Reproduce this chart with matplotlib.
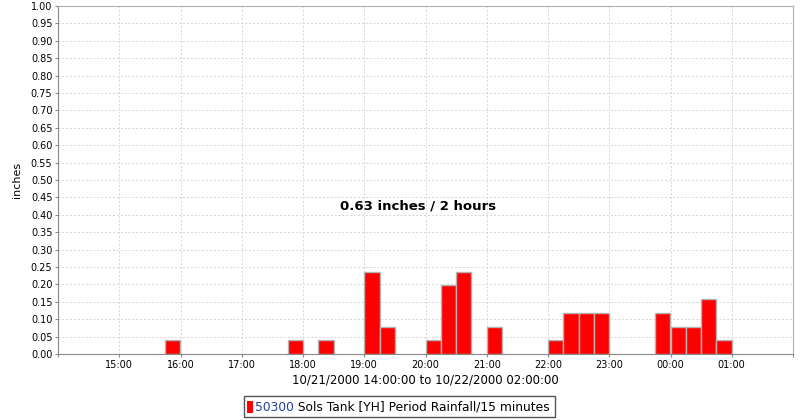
import matplotlib
matplotlib.use("Agg")
import matplotlib.pyplot as plt
import matplotlib.dates as mdates
from matplotlib.patches import Rectangle
import pandas as pd

# 15-minute rainfall periods (start of each period) and amounts in inches
period_starts = ["2000-10-21 15:45", "2000-10-21 17:45", "2000-10-21 18:15",
                 "2000-10-21 19:00", "2000-10-21 19:15", "2000-10-21 20:00",
                 "2000-10-21 20:15", "2000-10-21 20:30", "2000-10-21 21:00",
                 "2000-10-21 22:00", "2000-10-21 22:15", "2000-10-21 22:30",
                 "2000-10-21 22:45", "2000-10-21 23:45", "2000-10-22 00:00",
                 "2000-10-22 00:15", "2000-10-22 00:30", "2000-10-22 00:45"]
rainfall = [0.039, 0.039, 0.039, 0.236, 0.079, 0.039, 0.197, 0.236, 0.079,
            0.039, 0.118, 0.118, 0.118, 0.118, 0.079, 0.079, 0.157, 0.039]

series_id = "50300"
series_rest = " Sols Tank [YH] Period Rainfall/15 minutes"
summary_text = "0.63 inches / 2 hours"
x_label = "10/21/2000 14:00:00 to 10/22/2000 02:00:00"

t_start = pd.Timestamp("2000-10-21 14:00")
t_end = pd.Timestamp("2000-10-22 02:00")

fig = plt.figure(figsize=(8, 4.2), dpi=100)
ax = fig.add_axes([58 / 800, 66 / 420, 735 / 800, 348 / 420])

x = pd.to_datetime(period_starts)
ax.bar(x, rainfall, width=15 / 1440, align="edge", color="#ff0000",
       edgecolor="#b4b4b4", linewidth=1.0, zorder=3)

ax.set_xlim(t_start, t_end)
ax.set_ylim(0, 1.0)
ax.set_yticks([i * 0.05 for i in range(21)])
ax.yaxis.set_major_formatter(matplotlib.ticker.FormatStrFormatter("%.2f"))
ax.xaxis.set_major_locator(mdates.HourLocator())
ax.xaxis.set_major_formatter(mdates.DateFormatter("%H:00"))
# hide the 14:00 and 02:00 labels at the edges
fig.canvas.draw()
for lbl, t in zip(ax.get_xticklabels(), ax.get_xticks()):
    if abs(t - mdates.date2num(t_start)) < 1e-6 or abs(t - mdates.date2num(t_end)) < 1e-6:
        lbl.set_visible(False)

ax.grid(True, color="#d4d4d4", linestyle=(0, (2, 2)), linewidth=0.7, zorder=0)
ax.tick_params(axis="both", labelsize=7, length=2, width=0.8, color="#888888",
               pad=2)
for side in ["left", "bottom"]:
    ax.spines[side].set_color("#888888")
for side in ["top", "right"]:
    ax.spines[side].set_color("#b0b0b0")

ax.set_xlabel(x_label, fontsize=8.5, labelpad=3)
ax.set_ylabel("inches", fontsize=8, labelpad=6)

ax.text(0.49, 0.425, summary_text, transform=ax.transAxes, ha="center",
        va="center", fontsize=9.5, fontweight="bold")

# legend drawn by hand so the series id can be blue
W, H = 800, 420
base_y = 411  # text baseline, pixels from top
t1 = fig.text(255 / W, 1 - base_y / H, series_id, fontsize=8.8,
              color="#1f3f9f", ha="left", va="baseline")
fig.canvas.draw()
bb = t1.get_window_extent()
t2 = fig.text(bb.x1 / W, 1 - base_y / H, series_rest, fontsize=8.8,
              color="black", ha="left", va="baseline")
fig.canvas.draw()
bb2 = t2.get_window_extent()
left = 244
right = bb2.x1 + 5
fig.patches.append(Rectangle((left / W, 3 / H), (right - left) / W, 21 / H,
                             transform=fig.transFigure, facecolor="white",
                             edgecolor="#555555", linewidth=1.0, zorder=0))
fig.patches.append(Rectangle((247 / W, 7 / H), 6 / W, 12 / H,
                             transform=fig.transFigure, facecolor="#ff0000",
                             edgecolor="none", zorder=1))

fig.savefig("out.png", dpi=100, facecolor="white")
